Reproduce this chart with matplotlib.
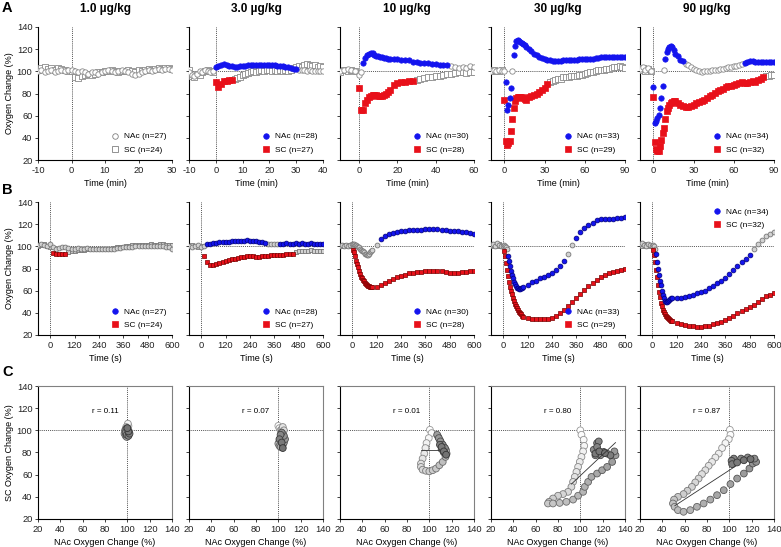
import numpy as np
import matplotlib

matplotlib.use("Agg")
import matplotlib.pyplot as plt
from matplotlib.lines import Line2D

plt.rcParams["font.family"] = ["Liberation Sans", "DejaVu Sans"]
plt.rcParams["axes.unicode_minus"] = False

# ---------------------------------------------------------------- data
DOSES = ["1.0 µg/kg", "3.0 µg/kg", "10 µg/kg", "30 µg/kg", "90 µg/kg"]
N_NAC = [27, 28, 30, 33, 34]
N_SC = [24, 27, 28, 29, 32]
R_VALUES = ["0.11", "0.07", "0.01", "0.80", "0.87"]

# row A: time in minutes
T_A1 = np.arange(-10, 31)
T_A2 = np.arange(-10, 41)
T_A3 = np.r_[np.arange(-10, 0, 2), np.arange(0, 16), np.arange(16, 61, 2)]
T_A45 = np.r_[np.arange(-10, 0, 2), np.arange(0, 16), np.arange(16, 91, 2)]

A1_NAC = [100, 101, 99, 100, 101, 99, 100, 101, 100, 101,
          101, 100, 99, 100, 99, 98, 99, 99, 98, 99,
          100, 101, 100, 99, 100, 101, 100, 99, 98, 97,
          98, 99, 100, 101, 100, 101, 102, 101, 102, 102, 101]
A1_SC = [101, 103, 104, 102, 103, 101, 103, 102, 101, 100,
         100, 95, 94, 96, 97, 98, 97, 98, 99, 99,
         100, 100, 101, 100, 99, 100, 100, 101, 100, 99,
         101, 100, 101, 102, 101, 102, 103, 102, 103, 103, 102]

A2_NAC = [99, 97, 96, 98, 100, 99, 101, 100, 99, 100,
          103.5, 105, 106, 106.5, 106, 105, 104.5, 104, 104, 104.5,
          105, 105, 105.5, 105.5, 105.5, 105.5, 106, 106, 105.5, 106,
          106, 105.5, 105.5, 105, 105, 104.5, 104, 103.5, 103, 102.5,
          102.5, 101.5, 101, 101, 100.5, 101, 100.5, 100, 100.5, 100.5, 100]
A2_SC = [101, 96, 95, 98, 97, 99, 100, 101, 100, 99,
         90, 86, 89, 91, 91.5, 92, 92.5, 93, 94, 95,
         97, 98, 98.5, 99, 100, 99, 100, 101, 100, 101,
         101, 100, 101, 100, 101, 100, 101, 100, 101, 103,
         104, 105, 104, 106, 107, 106, 105, 106, 104, 105, 104]

A3_NAC = [100, 101, 102, 101, 100,
          97, 99, 107.5, 112, 115, 116, 116.5, 116.5, 115, 114, 113.5, 113, 113, 112, 112, 111.5,
          111.5, 111, 111, 110.5, 110, 110, 108.5, 108, 107.5, 107.5, 107.5, 107, 107, 106,
          106, 106, 105, 104, 103, 104, 103, 105, 104]
A3_SC = [99, 101, 100, 101, 100,
         85, 65.5, 65.5, 71, 74, 76.5, 78, 78.5, 79, 78.5, 78, 78, 78, 78.5, 80, 81.5,
         83, 88, 89.5, 90, 90.5, 91, 91.5, 92.5, 93.5, 94, 94.5, 95, 95.5, 96,
         97, 97.5, 98, 98.5, 99, 99, 98.5, 99, 99]

A4_NAC = [100, 101, 100, 101, 100,
          100, 90, 65, 70, 76, 85, 100, 115, 123, 127, 128, 127.5, 126.5, 125.5, 124.5, 123.5,
          122, 120, 118, 116, 114.5, 113, 112, 111, 110.5, 110, 109.5, 109, 109, 109.5, 110,
          110, 110.5, 110.5, 110.5, 110.5, 111, 111, 111, 111.5, 111.5, 111.5, 112, 112,
          112.5, 112.5, 112.5, 113, 113, 113, 112.5, 112.5, 113, 112.5]
A4_SC = [100, 101, 100, 100, 101,
         74, 37.5, 33.5, 35, 37.5, 46, 57, 66.5, 73, 76, 77, 77, 77, 76.5, 76, 75,
         74.5, 76.5, 78, 79, 80, 81, 83, 85, 88.5, 90.5, 91.5, 92.5, 93, 93.5, 94.5,
         95, 95, 95.5, 96, 96, 97, 97, 98, 98.5, 99, 99.5, 100, 101, 101, 101.5,
         102, 102, 103, 103.5, 104, 105, 104, 103]

A5_NAC = [102, 104, 101, 103, 100,
          86, 53, 55, 58, 61, 67, 76, 87, 101, 111, 117, 120, 122, 122.5, 122, 119,
          116, 113.5, 110.5, 109, 107, 105.5, 103.5, 102, 101, 100, 99.5, 100, 100.5, 100.5,
          101, 101, 101.5, 102, 102.5, 103, 103.5, 104, 104.5, 105, 105.5, 106.5, 107.5,
          108.5, 109, 109, 108.5, 108.5, 108.5, 108, 108, 108, 108, 108]
A5_SC = [101, 103, 100, 102, 100,
         77, 36, 30, 28, 28, 33, 38, 44, 49, 57, 64, 67, 69.5, 71.5, 72.5, 73,
         73.5, 71.5, 69.5, 68.5, 68, 68, 69, 70, 71, 72, 73, 74.5, 76, 77.5, 79,
         80.5, 82, 83, 84, 85.5, 86.5, 87, 88, 88.5, 89.5, 90, 89.5, 89.5, 90.5, 91,
         90.5, 92, 93, 94.5, 95.5, 96, 97, 97]

# significant time windows (filled symbols)
A_NAC_SIG = [[], [(0, 30)], [(2, 46)], [(1, 5), (7, 90)], [(0, 7), (9, 22), (68, 90)]]
A_SC_SIG = [[], [(0, 6)], [(0, 28)], [(0, 33)], [(0, 83)]]

# row B: time in seconds
T_B12 = np.arange(-60, 601, 15)
T_B345 = np.r_[np.arange(-60, 0, 10), np.arange(0, 100, 5), np.arange(100, 601, 20)]

B1_NAC = [101, 102, 101, 100,
          102, 99, 98, 98.5, 99, 99, 98.5, 98, 98, 98.5,
          98, 98, 98.5, 98, 98, 97.5, 98, 98, 97.5, 97.5,
          98, 98, 98.5, 98.5, 99, 99, 99.5, 99.5, 100, 100.5,
          100.5, 100, 100.5, 100, 100, 100.5, 100, 100, 99.5, 99, 98]
B1_SC = [100, 101, 102, 100,
         99, 94, 93.5, 93.5, 93.5, 93.5, 95, 95.5, 96, 96.5,
         97, 97, 97.5, 97.5, 97.5, 97.5, 98, 98, 97.5, 97.5,
         98, 98.5, 99, 99, 99.5, 100, 100.5, 101, 101, 101.5,
         101.5, 101.5, 101.5, 102, 101.5, 101.5, 102, 102, 101.5, 101.5, 101.5]
B2_NAC = [100, 99, 100, 101,
          99, 100, 102, 102.5, 103, 103, 103.5, 103.5, 104, 104,
          104.5, 104.5, 104.5, 105, 105, 105.5, 105, 104.5, 104.5, 104,
          103.5, 103, 102.5, 102.5, 102.5, 102.5, 102.5, 102.5, 103, 102.5,
          102.5, 103, 102.5, 103, 102.5, 102.5, 103, 102.5, 102.5, 102.5, 102.5]
B2_SC = [100, 101, 100, 99,
         100, 91, 86, 83.5, 83, 84, 85, 86, 87, 88,
         88.5, 89, 89.5, 90, 90.5, 91, 91.5, 91, 90.5, 90.5,
         91, 91.5, 91.5, 92, 92, 92, 92.5, 92.5, 93, 93,
         93.5, 95, 95.5, 95.5, 96, 96, 96.5, 96, 95.5, 95.5, 95.5]

B3_NAC = [100, 101, 100, 101, 100, 101,
          102, 102, 102, 101.5, 101, 100.5, 99.5, 99, 98, 97,
          96, 95.5, 94.5, 93.5, 93, 92.5, 92.5, 93.5, 94.5, 95.5,
          96.5, 101.5, 107, 109, 111, 112, 113, 113.5, 114, 114.5, 114.5, 115, 115,
          115.5, 115.5, 116, 115.5, 115, 114.5, 114, 114, 113.5, 113, 112.5, 112, 111]
B3_SC = [100, 100, 101, 100, 100, 101,
         100, 97, 94.5, 91, 87, 84, 81.5, 78, 75, 72.5,
         71, 69.5, 68.5, 67, 66, 65, 64.5, 64, 63.5, 63,
         63, 63.5, 65, 67, 69, 70.5, 72, 73.5, 74.5, 75.5, 76, 76.5, 77,
         77.5, 78, 78, 78, 78, 77, 76, 76, 76, 76.5, 77, 77.5, 78]
B4_NAC = [101, 102, 100, 103, 101, 100,
          100, 101, 100, 99, 98, 91, 86.5, 82, 77.5, 74,
          71, 68, 66, 64, 62.5, 62, 61.5, 61.5, 62, 62.5,
          63, 65.5, 67.5, 69, 71, 72.5, 74.5, 76, 78.5, 82, 86.5, 93, 101,
          107.5, 113, 116.5, 119, 121.5, 123.5, 124.5, 125, 125, 125, 125.5, 126, 126.5]
B4_SC = [100, 101, 101, 100, 102, 100,
         100, 96, 91, 85, 79, 73, 68, 63, 60, 57,
         53.5, 50.5, 48, 46, 44, 42.5, 41, 40, 38.5, 37.5,
         36.5, 35, 34, 34, 34, 34, 34.5, 35.5, 37, 39.5, 42.5, 46, 50,
         53.5, 57, 61, 64, 67, 69.5, 72, 74, 75.5, 77, 78, 79, 80]
B5_NAC = [102, 103, 101, 100, 102, 101,
          100, 101, 100, 98, 93, 86, 80, 74, 69, 65,
          60, 56, 53, 50.5, 49.5, 50, 51, 52, 52.5, 53,
          53, 53, 53.5, 54.5, 55.5, 56.5, 57.5, 58.5, 60, 62, 64, 66.5, 69,
          71.5, 75, 78.5, 82, 85.5, 89, 92.5, 97.5, 102, 106, 109, 111, 112.5]
B5_SC = [101, 100, 102, 101, 100, 101,
         100, 97, 92, 86, 79, 72, 65, 59, 54, 49,
         46, 43, 41, 39, 37.5, 36.5, 35.5, 34.5, 33.5, 33,
         32.5, 31, 30, 29, 28.5, 28, 27.5, 27.5, 28, 28.5, 29.5, 30.5, 32,
         33.5, 35.5, 37.5, 39.5, 41.5, 43.5, 45.5, 47.5, 50, 52.5, 55, 56.5, 58]

B_NAC_SIG = [[], [(30, 320), (390, 600)], [(135, 600)], [(25, 310), (355, 600)], [(20, 480)]]
B_SC_SIG = [[(15, 80)], [(15, 455)], [(5, 600)], [(5, 600)], [(5, 600)]]

# row C: NAc vs SC scatter
C1_NAC = [100, 101, 100.5, 99, 98.5, 99, 100, 101, 101.5, 100.5, 99.5, 98, 97.5,
          98.5, 99.5, 100.5, 101, 100, 99, 98.5, 99.5, 101, 102, 101, 100]
C1_SC = [100, 104, 106, 103, 101, 99, 98, 97, 99, 101, 102, 100, 97,
         95, 94, 96, 98, 100, 101, 98, 96, 95, 97, 99, 102]
C2_NAC = [100, 101, 102, 103, 104, 105, 104, 103, 102, 101, 100,
          101, 102, 104, 105, 106, 105, 103, 102, 101, 103, 104]
C2_SC = [104, 102, 100, 101, 103, 100, 97, 95, 93, 90, 88,
         86, 85, 87, 89, 92, 95, 98, 96, 92, 89, 84]
C3_NAC = [100.5, 102, 99.5, 97.5, 96.5, 95.5, 94, 92.5, 92.5, 94, 97, 100, 103, 106, 109,
          112, 114.5, 115.5, 115, 113, 111, 109.5, 108, 107, 108.5, 110, 112, 114, 113,
          111, 109.5, 111, 113, 115]
C3_SC = [100.5, 97.5, 93, 88.5, 84, 79, 74.5, 70, 67, 64.5, 63.5, 63, 64, 65.5, 68.5,
         71.5, 76, 79, 82, 85, 88, 91, 94, 96, 93, 90, 87, 84, 80,
         83, 87, 85, 81, 78]
C4_NAC = [100, 101, 103, 103.5, 102.5, 101, 99.5, 98, 96.5, 95, 93.5, 92, 89, 84.5, 80,
          75.5, 72, 71, 75.5, 81.5, 87.5, 93.5, 98, 102.5, 104, 107, 110, 115, 119.5, 124,
          128.5, 131.5, 130.5, 124, 118, 113.5, 112, 115, 116.5, 115, 121, 127, 113.5, 117, 122]
C4_SC = [100, 96, 91.5, 86, 81, 76, 71.5, 67, 62.5, 58, 53.5, 49, 44.5, 42.5, 41,
         38.5, 35.5, 34, 34, 34.5, 35.5, 37.5, 41, 44.5, 49, 53.5, 58, 61, 64, 67,
         71.5, 77.5, 81, 79, 77.5, 77.5, 82.5, 88.5, 90, 85, 80.5, 77.5, 79, 81, 79.5]
C5_NAC = [100.5, 101, 99.5, 96.5, 93.5, 90.5, 87.5, 84.5, 81.5, 78.5, 75.5, 72.5, 69.5,
          66.5, 62.5, 59, 54, 50.5, 49.5, 51, 54, 59, 65, 71, 77, 83, 89, 95, 101, 107,
          113, 118, 121, 124, 122.5, 116.5, 110.5, 104, 102, 102.5, 107, 113, 119]
C5_SC = [100.5, 96, 92, 88.5, 84, 79, 75.5, 71.5, 68, 64, 60.5, 56.5, 53, 49, 45.5,
         42.5, 40, 37.5, 34, 31, 28, 26.5, 28, 31, 34, 37.5, 41.5, 46, 51.5, 56.5,
         61, 65.5, 70, 71.5, 74.5, 75.5, 74.5, 74.5, 72.5, 69.5, 71, 73, 74]
# regression line: slope, intercept, x start, x end
C_FITS = [None, None, (0.0, 82.3, 92.6, 109.0), (0.947, -35.6, 92.0, 131.5),
          (0.656, -1.6, 51.2, 105.8)]

# ---------------------------------------------------------------- layout
W, H = 781, 547
COL_LEFT = [38, 189, 340, 491, 640]
PW, PH = 134, 133
ROW_TOP = [27, 202, 386]

BLUE, BLUE_E = "#1414ee", "#00007a"
RED, RED_E = "#e8101a", "#7a0000"


def add_ax(fig, col, row):
    return fig.add_axes([COL_LEFT[col] / W, 1 - (ROW_TOP[row] + PH) / H, PW / W, PH / H])


def sig_mask(t, windows):
    t = np.asarray(t)
    m = np.zeros(t.shape, dtype=bool)
    for a, b in windows:
        m |= (t >= a) & (t <= b)
    return m


def plot_series(ax, t, y, windows, marker, fc, ec, open_fc, open_ec, s):
    t = np.asarray(t, dtype=float)
    y = np.asarray(y, dtype=float)
    m = sig_mask(t, windows)
    ax.scatter(t[~m], y[~m], marker=marker, s=s, facecolor=open_fc,
               edgecolor=open_ec, linewidth=0.6, zorder=3)
    ax.scatter(t[m], y[m], marker=marker, s=s, facecolor=fc,
               edgecolor=ec, linewidth=0.5, zorder=4)


def style(ax, xlim, xticks, first, box=False):
    ax.set_xlim(*xlim)
    ax.set_ylim(20, 140)
    ax.set_xticks(xticks)
    ax.set_yticks(range(20, 141, 20))
    ax.tick_params(labelsize=6.7, length=2.5, width=0.6, pad=1.5, colors="#222222")
    if not first:
        ax.set_yticklabels([])
    for sp in ("left", "bottom"):
        ax.spines[sp].set_linewidth(0.8)
    for sp in ("top", "right"):
        if box:
            ax.spines[sp].set_color("#808080")
            ax.spines[sp].set_linewidth(0.8)
        else:
            ax.spines[sp].set_visible(False)


def dotted(ax, vx=0, hy=100):
    kw = dict(color="#222222", ls=(0, (1, 1.3)), lw=0.6, zorder=1)
    ax.axvline(vx, **kw)
    ax.axhline(hy, **kw)


def legend(ax, i, filled, loc="lower right"):
    if filled:
        h1 = Line2D([], [], ls="", marker="o", ms=4, mfc=BLUE, mec=BLUE, mew=0.5)
        h2 = Line2D([], [], ls="", marker="s", ms=4, mfc=RED, mec=RED, mew=0.5)
    else:
        h1 = Line2D([], [], ls="", marker="o", ms=4, mfc="white", mec="#808080", mew=0.6)
        h2 = Line2D([], [], ls="", marker="s", ms=4, mfc="white", mec="#808080", mew=0.6)
    ax.legend([h1, h2], [f"NAc (n={N_NAC[i]})", f"SC (n={N_SC[i]})"], loc=loc,
              frameon=False, fontsize=6, handletextpad=0.4, labelspacing=0.7,
              borderaxespad=0.3, handlelength=1.2)


fig = plt.figure(figsize=(W / 100, H / 100), dpi=100)

# ---- row A
A_T = [T_A1, T_A2, T_A3, T_A45, T_A45]
A_NAC = [A1_NAC, A2_NAC, A3_NAC, A4_NAC, A5_NAC]
A_SC = [A1_SC, A2_SC, A3_SC, A4_SC, A5_SC]
A_XLIM = [(-10, 30), (-10, 40), (-10, 60), (-10, 90), (-10, 90)]
A_XT = [range(-10, 31, 10), range(-10, 41, 10), range(0, 61, 20), range(0, 91, 30), range(0, 91, 30)]
for i in range(5):
    ax = add_ax(fig, i, 0)
    dotted(ax)
    plot_series(ax, A_T[i], A_SC[i], A_SC_SIG[i], "s", RED, RED, "white", "#8a8a8a", 13)
    plot_series(ax, A_T[i], A_NAC[i], A_NAC_SIG[i], "o", BLUE, BLUE, "white", "#8a8a8a", 15)
    style(ax, A_XLIM[i], A_XT[i], i == 0)
    ax.set_xlabel("Time (min)", fontsize=6.5, labelpad=3)
    if i == 0:
        ax.set_ylabel("Oxygen Change (%)", fontsize=6.5, labelpad=2)
    legend(ax, i, i > 0)

# ---- row B
B_T = [T_B12, T_B12, T_B345, T_B345, T_B345]
B_NAC = [B1_NAC, B2_NAC, B3_NAC, B4_NAC, B5_NAC]
B_SC = [B1_SC, B2_SC, B3_SC, B4_SC, B5_SC]
for i in range(5):
    ax = add_ax(fig, i, 1)
    dotted(ax)
    plot_series(ax, B_T[i], B_SC[i], B_SC_SIG[i], "s", RED, RED_E, "#d2d2d2", "#777777", 11)
    plot_series(ax, B_T[i], B_NAC[i], B_NAC_SIG[i], "o", BLUE, BLUE_E, "#d2d2d2", "#777777", 12)
    style(ax, (-60, 600), range(0, 601, 120), i == 0)
    ax.set_xlabel("Time (s)", fontsize=6.5, labelpad=3)
    if i == 0:
        ax.set_ylabel("Oxygen Change (%)", fontsize=6.5, labelpad=2)
    legend(ax, i, True, "upper right" if i == 4 else "lower right")

# ---- row C
C_NAC = [C1_NAC, C2_NAC, C3_NAC, C4_NAC, C5_NAC]
C_SC = [C1_SC, C2_SC, C3_SC, C4_SC, C5_SC]
for i in range(5):
    ax = add_ax(fig, i, 2)
    dotted(ax, 100, 100)
    x = np.asarray(C_NAC[i], dtype=float)
    y = np.asarray(C_SC[i], dtype=float)
    f = np.linspace(0, 1, x.size)
    faces = [(g, g, g) for g in 1 - 0.55 * f]
    edges = [(g, g, g) for g in 0.6 - 0.4 * f]
    ax.scatter(x, y, s=24, facecolor=faces, edgecolor=edges, linewidth=0.6, zorder=3)
    if C_FITS[i] is not None:
        a, b, x0, x1 = C_FITS[i]
        xx = np.array([x0, x1])
        ax.plot(xx, a * xx + b, color="#333333", lw=0.6, zorder=4)
    ax.text(80, 117, f"r = {R_VALUES[i]}", fontsize=5.8, ha="center", va="center")
    style(ax, (20, 140), range(20, 141, 20), i == 0, box=True)
    ax.set_xlabel("NAc Oxygen Change (%)", fontsize=6.5, labelpad=3)
    if i == 0:
        ax.set_ylabel("SC Oxygen Change (%)", fontsize=6.5, labelpad=2)

# ---- titles and panel letters
for i, dose in enumerate(DOSES):
    fig.text((COL_LEFT[i] + PW / 2) / W, 1 - 9 / H, dose, ha="center", va="center",
             fontsize=8.5, fontweight="bold")
for letter, ypx in (("A", 8), ("B", 190), ("C", 372)):
    fig.text(2 / W, 1 - ypx / H, letter, ha="left", va="center", fontsize=10.5,
             fontweight="bold")

fig.savefig("out.png", dpi=100)
